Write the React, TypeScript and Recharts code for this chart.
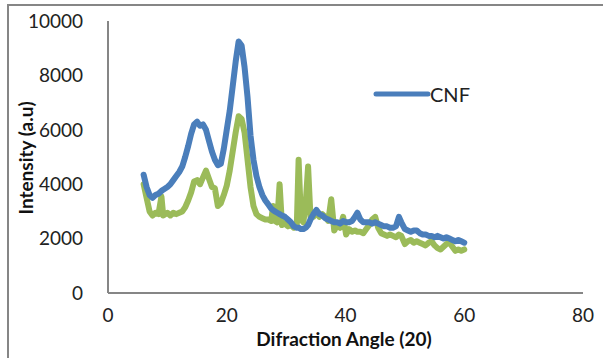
import { Line, LineChart, XAxis, YAxis } from "recharts";

// diffraction angle (2θ) of each reading
const angles = [
  6.0, 6.5, 7.0, 7.5, 8.0, 8.5, 9.0, 9.3, 10.0, 10.5, 11.0, 11.5, 12.0, 12.5, 13.0, 13.5, 14.0, 14.5,
  15.0, 15.5, 16.0, 16.5, 17.0, 17.5, 18.0, 18.5, 19.0, 19.5, 20.0, 20.5, 21.0, 21.5, 22.0, 22.5, 23.0,
  23.5, 24.0, 24.5, 25.0, 25.5, 26.0, 26.5, 27.0, 27.5, 27.8, 28.1, 28.5, 28.9, 29.3, 29.8, 30.3, 30.8,
  31.3, 31.8, 32.1, 32.5, 32.9, 33.3, 33.7, 34.1, 34.6, 35.1, 35.6, 36.1, 36.6, 37.1, 37.6, 38.1, 38.6,
  39.1, 39.6, 40.1, 40.6, 41.1, 41.6, 42.0, 42.5, 43.0, 43.5, 44.0, 44.5, 45.0, 45.5, 46.0, 46.5, 47.0,
  47.5, 48.0, 48.5, 49.0, 49.4, 50.0, 50.5, 51.0, 51.5, 52.0, 52.5, 53.0, 53.5, 54.0, 54.5, 55.0, 55.5,
  56.0, 56.5, 57.0, 57.5, 58.0, 58.5, 59.0, 59.5, 60.0,
];

// CNF (blue)
const cnf = [
  4350, 3900, 3600, 3500, 3600, 3650, 3750, 3800, 3900, 4000, 4150, 4300, 4450, 4650, 5000, 5400, 5850, 6200,
  6300, 6150, 6200, 6000, 5600, 5200, 4900, 4700, 4750, 5300, 6000, 6700, 7600, 8500, 9250, 9100, 8300,
  7200, 5800, 4900, 4300, 3900, 3600, 3400, 3250, 3100, 3050, 3000, 2950, 2900, 2850, 2800, 2700, 2600,
  2450, 2400, 2400, 2350, 2350, 2400, 2500, 2700, 2900, 3050, 2900, 2850, 2750, 2700, 2650, 2600, 2600,
  2550, 2650, 2600, 2600, 2650, 2800, 2950, 2700, 2600, 2600, 2600, 2550, 2600, 2550, 2500, 2450, 2450,
  2400, 2400, 2450, 2800, 2600, 2350, 2300, 2250, 2300, 2300, 2200, 2150, 2150, 2100, 2100, 2050, 2100,
  2050, 2000, 2050, 2000, 1950, 1900, 1950, 1900, 1850,
];

// second sample (green, not in legend)
const sample2 = [
  4000, 3500, 3000, 2850, 2950, 2900, 3550, 2850, 2950, 2850, 2950, 2900, 2950, 3000, 3150, 3400, 3700, 4100,
  4150, 4000, 4250, 4500, 4200, 3900, 3850, 3200, 3300, 3600, 3950, 4500, 5200, 5900, 6500, 6400, 5900,
  4900, 3900, 3200, 2900, 2800, 2750, 2700, 2700, 2650, 3200, 2650, 2600, 4000, 2500, 2550, 2450, 2500,
  2400, 2500, 4900, 2700, 2600, 3300, 4650, 2800, 2800, 3000, 2800, 2900, 2800, 2650, 3450, 2300, 2500,
  2400, 2800, 2150, 2350, 2250, 2300, 2250, 2250, 2200, 2350, 2500, 2700, 2800, 2400, 2200, 2150, 2100,
  2150, 2100, 2050, 2150, 2100, 1800, 1900, 1950, 1850, 1900, 1850, 1800, 1750, 1850, 1900, 1750, 1650,
  1600, 1700, 1800, 1850, 1700, 1550, 1600, 1550, 1600,
];

const xTicks = [0, 20, 40, 60, 80];
const yTicks = [0, 2000, 4000, 6000, 8000, 10000];

const data = angles.map((a, i) => ({ angle: a, cnf: cnf[i], sample2: sample2[i] }));

const FONT = "Lato, 'Liberation Sans', sans-serif";
const AXIS = "#868686";
const BLUE = "#4a7ebb";
const GREEN = "#9bbb59";

const YTitle = () => (
  <text
    x={25}
    y={158}
    transform="rotate(-90 25 158)"
    textAnchor="middle"
    dominantBaseline="central"
    fontFamily={FONT}
    fontWeight="bold"
    fontSize={19}
    fill="#111"
  >
    Intensity (a.u)
  </text>
);

const XTitle = () => (
  <text
    x={344}
    y={338}
    textAnchor="middle"
    dominantBaseline="central"
    fontFamily={FONT}
    fontWeight="bold"
    fontSize={19}
    fill="#111"
  >
    Difraction Angle (20)
  </text>
);

export default function App() {
  return (
    <div style={{ position: "absolute", left: 0, top: 0, width: 603, height: 358, background: "#fff" }}>
      <div
        style={{
          position: "absolute",
          left: 7,
          top: 4,
          width: 594,
          height: 352,
          borderTop: `2px solid ${AXIS}`,
          borderLeft: `2px solid ${AXIS}`,
        }}
      />
      <div style={{ position: "absolute", left: 0, top: 0 }}>
        <LineChart width={603} height={358} data={data} margin={{ top: 21, right: 20, bottom: 35, left: 0 }}>
          <XAxis
            dataKey="angle"
            type="number"
            domain={[0, 80]}
            ticks={xTicks}
            height={30}
            tickSize={0}
            tickMargin={16}
            axisLine={{ stroke: AXIS, strokeWidth: 2 }}
            tickLine={false}
            tick={{ fill: "#222", fontSize: 19, fontFamily: FONT }}
            label={<XTitle />}
          />
          <YAxis
            type="number"
            domain={[0, 10000]}
            ticks={yTicks}
            width={108}
            tickSize={0}
            tickMargin={25}
            axisLine={{ stroke: AXIS, strokeWidth: 2 }}
            tickLine={false}
            tick={{ fill: "#222", fontSize: 19, fontFamily: FONT }}
            label={<YTitle />}
          />
          <Line
            dataKey="sample2"
            stroke={GREEN}
            strokeWidth={6}
            strokeLinejoin="round"
            strokeLinecap="round"
            dot={false}
            isAnimationActive={false}
          />
          <Line
            dataKey="cnf"
            name="CNF"
            stroke={BLUE}
            strokeWidth={6}
            strokeLinejoin="round"
            strokeLinecap="round"
            dot={false}
            isAnimationActive={false}
          />
        </LineChart>
      </div>
      {/* legend: only the CNF series is listed */}
      <svg style={{ position: "absolute", left: 373, top: 79 }} width={110} height={30}>
        <line x1={3} y1={15} x2={55} y2={15} stroke={BLUE} strokeWidth={5} strokeLinecap="round" />
        <text x={57} y={15} dominantBaseline="central" fontFamily={FONT} fontSize={20} fill="#222">
          CNF
        </text>
      </svg>
    </div>
  );
}
